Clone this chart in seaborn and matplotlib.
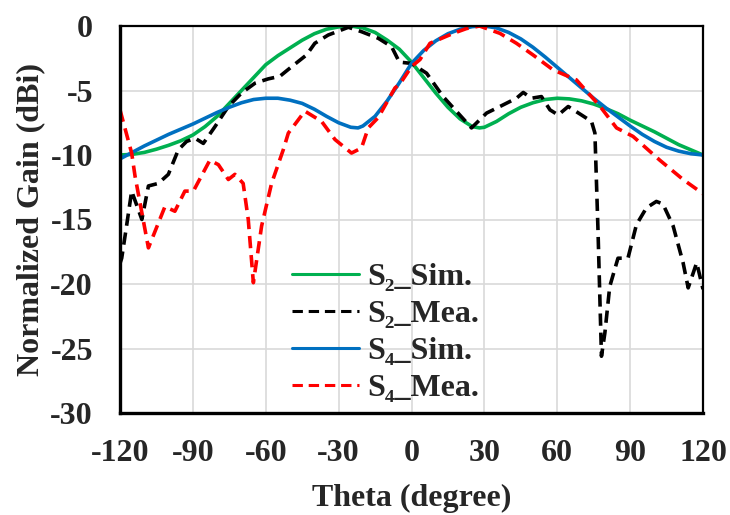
import numpy as np
import pandas as pd
import matplotlib
matplotlib.use("Agg")
import matplotlib.pyplot as plt
import seaborn as sns

# S2 simulated
s2_sim_theta = [-120, -115, -110, -105, -100, -95, -90, -85, -80, -75, -70, -65, -60, -55, -50,
                -45, -40, -35, -30, -25, -20, -15, -10, -5, 0, 5, 10, 15, 20, 25, 28, 30, 35,
                40, 45, 50, 55, 60, 65, 70, 75, 80, 85, 90, 95, 100, 105, 110, 115, 120]
s2_sim_gain = [-10.0, -9.95, -9.8, -9.55, -9.25, -8.9, -8.45, -7.8, -7.0, -6.0, -5.0, -4.0,
               -3.0, -2.3, -1.7, -1.1, -0.6, -0.25, -0.07, 0.0, -0.15, -0.5, -1.1, -1.8, -2.8,
               -4.0, -5.2, -6.3, -7.2, -7.8, -7.9, -7.85, -7.4, -6.8, -6.3, -5.95, -5.7, -5.6,
               -5.65, -5.8, -6.05, -6.4, -6.8, -7.3, -7.75, -8.2, -8.7, -9.2, -9.6, -10.0]

# S2 measured
s2_mea_theta = [-120, -119.3, -117.3, -115.2, -111, -108.3, -104.2, -100.1, -96, -92.6, -89.1,
                -85.7, -80.9, -75.4, -70, -64.4, -59, -54.2, -49.3, -43.2, -39.8, -34.3, -26,
                -20.6, -13.7, -8.2, -5, 0, 6.2, 13, 24.7, 30.9, 36.4, 43.2, 46, 49.4, 53.5, 57,
                60.4, 64.5, 70, 74.1, 75.5, 76.8, 78.2, 79.6, 81.6, 85, 89.1, 92.6, 96.7, 100.8,
                103.5, 107.7, 111.8, 113.9, 117.4, 120]
s2_mea_gain = [-18.4, -18.0, -15.5, -12.8, -15.0, -12.4, -12.2, -11.5, -9.6, -8.95, -8.7,
               -9.1, -7.8, -6.24, -5.2, -4.43, -4.1, -3.9, -3.15, -2.24, -1.34, -0.7, -0.1,
               -0.44, -0.95, -1.6, -2.8, -2.9, -3.66, -5.47, -7.9, -6.75, -6.24, -5.6, -5.15,
               -5.6, -5.47, -6.5, -6.9, -6.24, -6.9, -7.4, -8.3, -16.0, -25.6, -23.8, -20.2,
               -18.0, -18.0, -15.4, -14.1, -13.6, -13.8, -15.5, -18.35, -20.3, -18.35, -20.4]

# S4 simulated
s4_sim_theta = [-120, -115, -110, -105, -100, -95, -90, -85, -80, -75, -70, -65, -60, -55, -50,
                -45, -40, -35, -30, -25, -22, -20, -15, -10, -5, 0, 5, 10, 15, 20, 25, 28, 30,
                35, 40, 45, 50, 55, 60, 65, 70, 75, 80, 85, 90, 95, 100, 105, 110, 115, 120]
s4_sim_gain = [-10.3, -9.8, -9.3, -8.85, -8.4, -8.0, -7.6, -7.15, -6.7, -6.3, -5.95, -5.7,
               -5.6, -5.6, -5.75, -6.0, -6.45, -7.0, -7.5, -7.85, -7.9, -7.75, -7.0, -5.8,
               -4.4, -2.9, -1.9, -1.15, -0.6, -0.25, -0.05, 0.0, 0.0, -0.15, -0.5, -1.0, -1.65,
               -2.4, -3.2, -4.0, -4.8, -5.6, -6.35, -7.05, -7.75, -8.4, -8.95, -9.4, -9.7,
               -9.9, -10.0]

# S4 measured
s4_mea_theta = [-120, -115.2, -113.8, -108.3, -101.5, -97.4, -93.3, -89.8, -83, -79.5, -75.4,
                -72.7, -69.3, -67.2, -65.1, -61.7, -57.6, -52.8, -50.7, -43.9, -37, -31.5,
                -24.7, -20.6, -17.8, -13.7, -6.8, -4.8, 0, 3.5, 7.6, 17.2, 22.6, 28, 36.4, 43.2,
                50, 58.3, 67.9, 77.5, 84.4, 91.2, 102.2, 111.8, 120]
s4_mea_gain = [-6.5, -9.85, -11.65, -17.2, -14.0, -14.36, -12.8, -12.8, -10.4, -10.75, -11.9,
               -11.5, -12.2, -15.0, -19.9, -15.5, -12.2, -9.6, -8.3, -6.6, -7.4, -8.8, -9.85,
               -9.46, -7.9, -7.1, -4.8, -4.5, -3.15, -2.6, -1.34, -0.57, -0.2, 0.0, -0.57,
               -1.34, -2.24, -3.4, -4.18, -6.2, -7.9, -8.56, -10.4, -11.9, -13.0]

x_ticks = [-120, -90, -60, -30, 0, 30, 60, 90, 120]
y_ticks = [-30, -25, -20, -15, -10, -5, 0]

sns.set_style("whitegrid", {"grid.color": "#d9d9d9", "axes.edgecolor": "black"})
plt.rcParams["font.family"] = ["Liberation Serif", "DejaVu Serif"]
plt.rcParams["font.weight"] = "bold"
plt.rcParams["axes.unicode_minus"] = False
FS = 23

fig = plt.figure(figsize=(7.3, 5.15), dpi=100)
ax = fig.add_axes([120 / 730, 1 - 413 / 515, 583 / 730, 387 / 515])

dash = (0, (3.4, 1.9))
series = [
    (s2_sim_theta, s2_sim_gain, "S\u2082_Sim.", "#00b050", "-"),
    (s2_mea_theta, s2_mea_gain, "S\u2082_Mea.", "black", dash),
    (s4_sim_theta, s4_sim_gain, "S\u2084_Sim.", "#0070c0", "-"),
    (s4_mea_theta, s4_mea_gain, "S\u2084_Mea.", "#ff0000", dash),
]
for th, g, lab, col, ls in series:
    sns.lineplot(x=th, y=g, ax=ax, color=col, linestyle=ls, lw=2.6, label=lab, sort=False)

ax.set_xlim(-120, 120)
ax.set_ylim(-30, 0)
ax.set_xticks(x_ticks)
ax.set_yticks(y_ticks)
ax.grid(True, color="#d9d9d9", lw=1.2)
for s in ["left", "bottom"]:
    ax.spines[s].set_linewidth(2.4)
for s in ["top", "right"]:
    ax.spines[s].set_linewidth(1.6)
for s in ax.spines.values():
    s.set_color("black")
ax.tick_params(axis="both", direction="inout", length=13, width=1.6, color="black",
               labelsize=FS)
ax.tick_params(axis="y", pad=13)
ax.tick_params(axis="x", pad=12)
ax.set_xlabel("Theta (degree)", fontsize=FS, fontweight="bold", labelpad=12)
ax.set_ylabel("Normalized Gain (dBi)", fontsize=FS, fontweight="bold", labelpad=4)

leg = ax.legend(loc="center left", bbox_to_anchor=(0.295, 0.207), frameon=False,
                fontsize=FS, handlelength=2.1, handletextpad=0.25, labelspacing=0.24,
                borderaxespad=0, borderpad=0)
for h in leg.get_lines():
    h.set_linewidth(2.2)

fig.savefig("out.png", dpi=100)
